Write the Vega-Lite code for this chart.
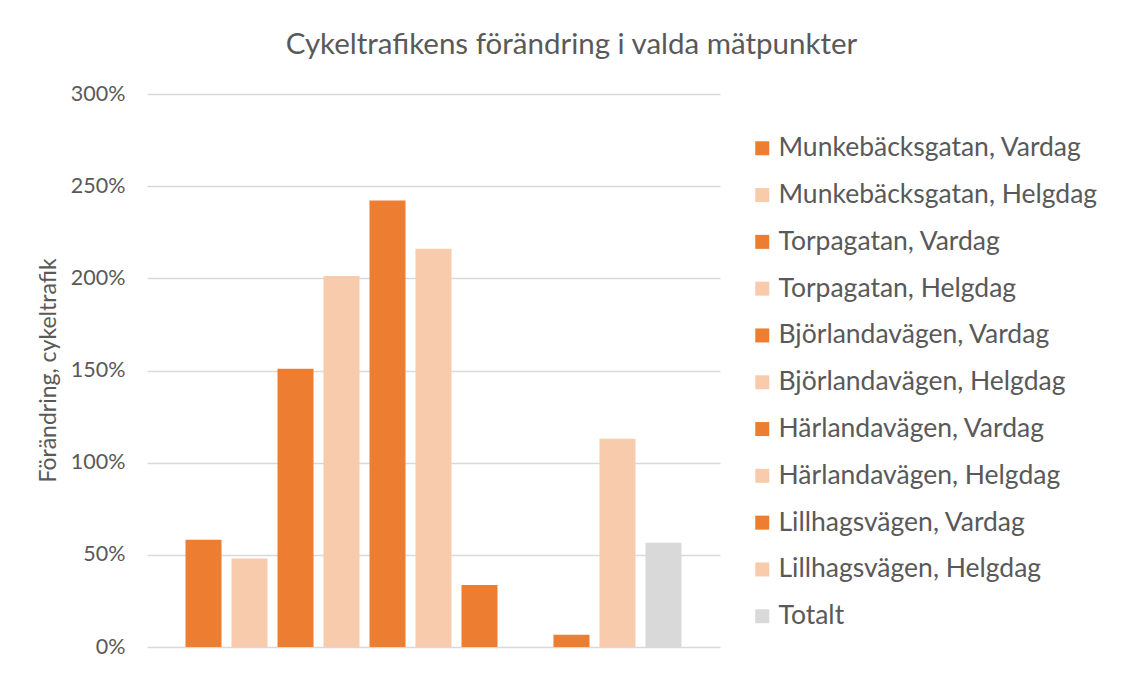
{
  "$schema": "https://vega.github.io/schema/vega-lite/v6.json",
  "width": 573,
  "height": 553,
  "autosize": {"type": "none"},
  "padding": {"left": 147, "top": 94, "right": 409, "bottom": 41},
  "background": "white",
  "title": {
    "text": "Cykeltrafikens förändring i valda mätpunkter",
    "anchor": "middle",
    "dx": 138,
    "offset": 23,
    "font": "Lato",
    "fontSize": 29.5,
    "fontWeight": "normal",
    "color": "#595959"
  },
  "data": {
    "values": [
      {"serie": "Munkebäcksgatan, Vardag", "andring": 0.582},
      {"serie": "Munkebäcksgatan, Helgdag", "andring": 0.48},
      {"serie": "Torpagatan, Vardag", "andring": 1.51},
      {"serie": "Torpagatan, Helgdag", "andring": 2.013},
      {"serie": "Björlandavägen, Vardag", "andring": 2.422},
      {"serie": "Björlandavägen, Helgdag", "andring": 2.161},
      {"serie": "Härlandavägen, Vardag", "andring": 0.336},
      {"serie": "Härlandavägen, Helgdag", "andring": null},
      {"serie": "Lillhagsvägen, Vardag", "andring": 0.067},
      {"serie": "Lillhagsvägen, Helgdag", "andring": 1.13},
      {"serie": "Totalt", "andring": 0.566}
    ]
  },
  "mark": {"type": "bar"},
  "encoding": {
    "x": {
      "field": "serie",
      "type": "nominal",
      "sort": null,
      "scale": {
        "domain": ["Munkebäcksgatan, Vardag", "Munkebäcksgatan, Helgdag", "Torpagatan, Vardag", "Torpagatan, Helgdag", "Björlandavägen, Vardag", "Björlandavägen, Helgdag", "Härlandavägen, Vardag", "Härlandavägen, Helgdag", "Lillhagsvägen, Vardag", "Lillhagsvägen, Helgdag", "Totalt"],
        "paddingInner": 0.217,
        "paddingOuter": 0.837
      },
      "axis": null
    },
    "y": {
      "field": "andring",
      "type": "quantitative",
      "scale": {"domain": [0, 3], "nice": false},
      "axis": {
        "title": "Förändring, cykeltrafik",
        "format": ".0%",
        "values": [0, 0.5, 1, 1.5, 2, 2.5, 3],
        "domain": false,
        "ticks": false,
        "grid": true,
        "gridColor": "#d9d9d9",
        "gridWidth": 1.5,
        "labelFont": "Lato",
        "labelFontSize": 21.5,
        "labelColor": "#595959",
        "labelPadding": 22,
        "titleFont": "Lato",
        "titleFontSize": 23,
        "titleFontWeight": "normal",
        "titleColor": "#595959",
        "titleAngle": -90,
        "titleX": -99,
        "titleY": 276,
        "titleAlign": "center",
        "titleBaseline": "middle"
      }
    },
    "color": {
      "field": "serie",
      "type": "nominal",
      "scale": {
        "domain": ["Munkebäcksgatan, Vardag", "Munkebäcksgatan, Helgdag", "Torpagatan, Vardag", "Torpagatan, Helgdag", "Björlandavägen, Vardag", "Björlandavägen, Helgdag", "Härlandavägen, Vardag", "Härlandavägen, Helgdag", "Lillhagsvägen, Vardag", "Lillhagsvägen, Helgdag", "Totalt"],
        "range": ["#ED7D31", "#F8CBAD", "#ED7D31", "#F8CBAD", "#ED7D31", "#F8CBAD", "#ED7D31", "#F8CBAD", "#ED7D31", "#F8CBAD", "#D9D9D9"]
      },
      "legend": {
        "title": null,
        "orient": "none",
        "legendX": 602,
        "legendY": 41,
        "symbolType": "square",
        "symbolSize": 196,
        "symbolOpacity": 1,
        "symbolStrokeWidth": 0,
        "labelFont": "Lato",
        "labelFontSize": 26.5,
        "labelColor": "#595959",
        "labelLimit": 400,
        "labelOffset": 3,
        "rowPadding": 19.8
      }
    }
  },
  "config": {
    "view": {"stroke": null}
  }
}
